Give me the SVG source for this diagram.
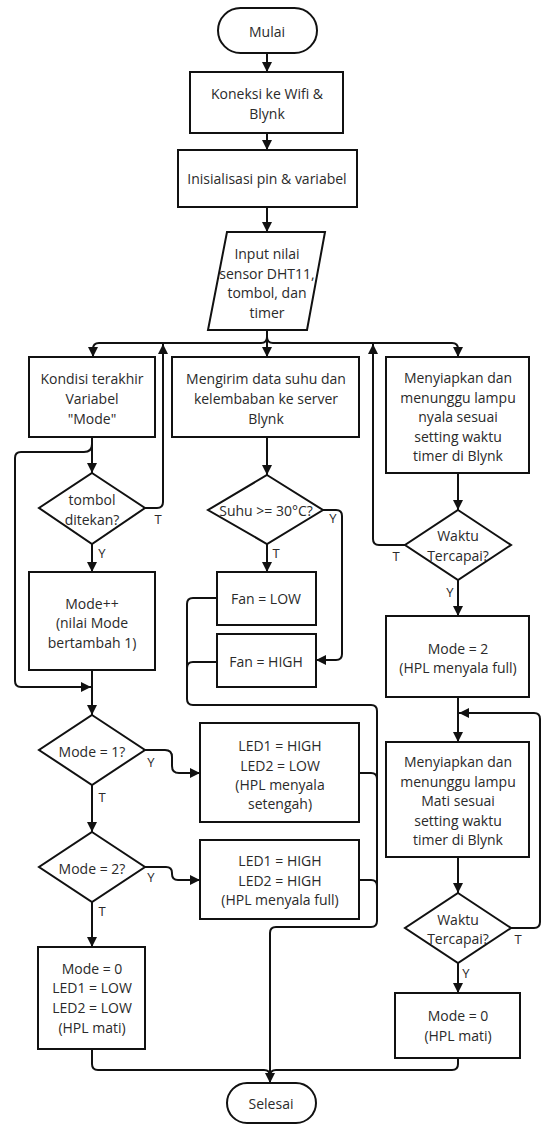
<svg xmlns="http://www.w3.org/2000/svg" width="543" height="1124" viewBox="0 0 543 1124">
<style>
.s{fill:#fff;stroke:#111;stroke-width:2}
.c{fill:none;stroke:#111;stroke-width:2}
.a{marker-end:url(#ah)}
text{font-family:"Open Sans","Noto Sans","Liberation Sans",sans-serif;font-size:14px;fill:#2a2a2a;text-anchor:middle;dominant-baseline:central}
.l{font-size:13px}
</style>
<defs>
<marker id="ah" viewBox="0 0 10 10" refX="10" refY="5" markerWidth="10" markerHeight="10" markerUnits="userSpaceOnUse" orient="auto">
<path d="M0,0 L10,5 L0,10 Z" fill="#111"/>
</marker>
</defs>
<rect width="543" height="1124" fill="#fff"/>
<g id="connectors">
<path class="c a" d="M267,53 V72"/>
<path class="c a" d="M267,133 V150"/>
<path class="c a" d="M267,207 V232"/>
<path class="c a" d="M267,330 V357"/>
<path class="c a" d="M267,337 Q267,343 261,343 H99 Q93,343 93,349 V357"/>
<path class="c a" d="M267,337 Q267,343 273,343 H452 Q458,343 458,349 V357"/>
<path class="c a" d="M92,437 V473"/>
<path class="c a" d="M92,444 Q92,452 84,452 H21 Q15,452 15,458 V681 Q15,687 21,687 H91"/>
<path class="c a" d="M145,508 H157 Q163,508 163,502 V344"/>
<path class="c a" d="M92,544 V572"/>
<path class="c a" d="M92,670 V715"/>
<path class="c a" d="M145,750 H165 Q172,750 172,757 V766 Q172,773 179,773 H200"/>
<path class="c a" d="M92,785 V832"/>
<path class="c a" d="M145,867 H166 Q172,867 172,873 V874 Q172,880 178,880 H200"/>
<path class="c a" d="M92,902 V947"/>
<path class="c" d="M92,1049 V1064 Q92,1070 98,1070 H264 Q270,1070 270,1076"/>
<path class="c" d="M458,1058 V1064 Q458,1070 452,1070 H276 Q270,1070 270,1076"/>
<path class="c a" d="M267,437 V475"/>
<path class="c a" d="M323,510 H336 Q342,510 342,516 V654 Q342,660 336,660 H316"/>
<path class="c a" d="M267,544 V572"/>
<path class="c a" d="M217,598 H193 Q187,598 187,604 V699 Q187,705 193,705 H371 Q377,705 377,711 V921 Q377,927 371,927 H276 Q270,927 270,933 V1083"/>
<path class="c" d="M217,662 H193 Q187,662 187,668"/>
<path class="c" d="M359,773 H371 Q377,773 377,779"/>
<path class="c" d="M359,880 H371 Q377,880 377,886"/>
<path class="c a" d="M458,473 V510"/>
<path class="c a" d="M405,545 H379 Q373,545 373,539 V344"/>
<path class="c a" d="M458,580 V616"/>
<path class="c a" d="M458,697 V742"/>
<path class="c a" d="M511,928 H534 Q540,928 540,922 V719 Q540,713 534,713 H459"/>
<path class="c a" d="M458,857 V893"/>
<path class="c a" d="M458,963 V993"/>
<text class="l" x="158" y="519">T</text>
<text class="l" x="102" y="553">Y</text>
<text class="l" x="276" y="553">T</text>
<text class="l" x="333" y="518">Y</text>
<text class="l" x="396" y="556">T</text>
<text class="l" x="450" y="592">Y</text>
<text class="l" x="151" y="762">Y</text>
<text class="l" x="102" y="797">T</text>
<text class="l" x="151" y="877">Y</text>
<text class="l" x="102" y="911">T</text>
<text class="l" x="518" y="939">T</text>
<text class="l" x="466" y="973">Y</text>
</g>
<g id="mulai"><rect class="s" x="218" y="8" width="99" height="45" rx="22.5"/><text x="267" y="31">Mulai</text></g>
<g id="koneksi"><rect class="s" x="190" y="72" width="153" height="61"/><text x="267" y="93">Koneksi ke Wifi &amp;</text><text x="267" y="113">Blynk</text></g>
<g id="inisialisasi"><rect class="s" x="178" y="150" width="179" height="57"/><text x="267" y="178">Inisialisasi pin &amp; variabel</text></g>
<g id="input"><path class="s" d="M227,232 H325 L307,330 H208 Z"/><text x="267" y="253">Input nilai</text><text x="267" y="273">sensor DHT11,</text><text x="267" y="292">tombol, dan</text><text x="267" y="312">timer</text></g>
<g id="kondisi"><rect class="s" x="29" y="357" width="126" height="80"/><text x="92" y="378">Kondisi terakhir</text><text x="92" y="398">Variabel</text><text x="92" y="418">"Mode"</text></g>
<g id="mengirim"><rect class="s" x="172" y="357" width="187" height="80"/><text x="266" y="378">Mengirim data suhu dan</text><text x="266" y="398">kelembaban ke server</text><text x="266" y="418">Blynk</text></g>
<g id="nyala"><rect class="s" x="386" y="357" width="143" height="116"/><text x="458" y="377">Menyiapkan dan</text><text x="458" y="397">menunggu lampu</text><text x="458" y="416">nyala sesuai</text><text x="458" y="436">setting waktu</text><text x="458" y="455">timer di Blynk</text></g>
<g id="tombol"><path class="s" d="M92,473 L145,508 L92,544 L39,508 Z"/><text x="92" y="499">tombol</text><text x="92" y="519">ditekan?</text></g>
<g id="suhu"><path class="s" d="M267,475 L323,510 L267,544 L208,510 Z"/><text x="266" y="510">Suhu &gt;= 30°C?</text></g>
<g id="waktu1"><path class="s" d="M458,510 L511,545 L458,580 L405,545 Z"/><text x="458" y="535">Waktu</text><text x="458" y="555">Tercapai?</text></g>
<g id="modeinc"><rect class="s" x="29" y="572" width="126" height="98"/><text x="92" y="603">Mode++</text><text x="92" y="622">(nilai Mode</text><text x="92" y="642">bertambah 1)</text></g>
<g id="fanlow"><rect class="s" x="217" y="572" width="99" height="53"/><text x="266" y="598">Fan = LOW</text></g>
<g id="fanhigh"><rect class="s" x="217" y="634" width="99" height="53"/><text x="266" y="661">Fan = HIGH</text></g>
<g id="mode2set"><rect class="s" x="386" y="616" width="143" height="81"/><text x="458" y="648">Mode = 2</text><text x="458" y="667">(HPL menyala full)</text></g>
<g id="mode1"><path class="s" d="M92,715 L145,750 L92,785 L39,750 Z"/><text x="92" y="751">Mode = 1?</text></g>
<g id="led1"><rect class="s" x="200" y="723" width="159" height="99"/><text x="280" y="745">LED1 = HIGH</text><text x="280" y="765">LED2 = LOW</text><text x="280" y="784">(HPL menyala</text><text x="280" y="803">setengah)</text></g>
<g id="mati"><rect class="s" x="386" y="742" width="143" height="115"/><text x="458" y="761">Menyiapkan dan</text><text x="458" y="781">menunggu lampu</text><text x="458" y="800">Mati sesuai</text><text x="458" y="820">setting waktu</text><text x="458" y="839">timer di Blynk</text></g>
<g id="mode2"><path class="s" d="M92,832 L145,867 L92,902 L39,867 Z"/><text x="92" y="868">Mode = 2?</text></g>
<g id="led2"><rect class="s" x="200" y="840" width="159" height="79"/><text x="280" y="860">LED1 = HIGH</text><text x="280" y="880">LED2 = HIGH</text><text x="280" y="899">(HPL menyala full)</text></g>
<g id="waktu2"><path class="s" d="M458,893 L511,928 L458,963 L405,928 Z"/><text x="458" y="919">Waktu</text><text x="458" y="938">Tercapai?</text></g>
<g id="mode0left"><rect class="s" x="38" y="947" width="107" height="102"/><text x="92" y="968">Mode = 0</text><text x="92" y="987">LED1 = LOW</text><text x="92" y="1007">LED2 = LOW</text><text x="92" y="1027">(HPL mati)</text></g>
<g id="mode0right"><rect class="s" x="395" y="993" width="125" height="65"/><text x="458" y="1015">Mode = 0</text><text x="458" y="1035">(HPL mati)</text></g>
<g id="selesai"><rect class="s" x="227" y="1083" width="89" height="40" rx="20"/><text x="271" y="1103">Selesai</text></g>
</svg>
